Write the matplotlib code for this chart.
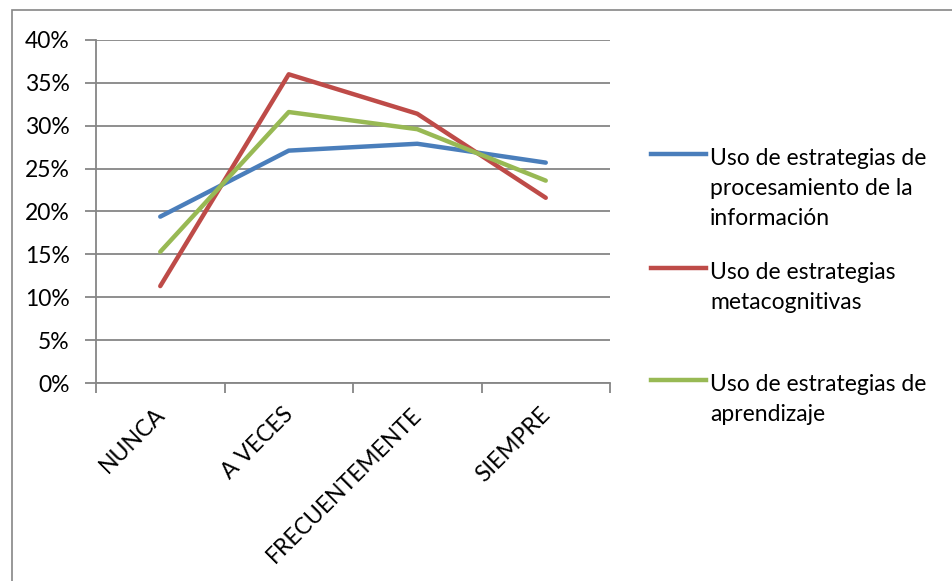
import matplotlib
matplotlib.use("Agg")
import matplotlib.pyplot as plt
from matplotlib.lines import Line2D
from matplotlib.patches import Rectangle
from matplotlib.ticker import PercentFormatter
from matplotlib.transforms import ScaledTranslation

categories = ["NUNCA", "A VECES", "FRECUENTEMENTE", "SIEMPRE"]
procesamiento = [19.4, 27.1, 27.9, 25.7]
metacognitivas = [11.3, 36.0, 31.4, 21.6]
aprendizaje = [15.3, 31.6, 29.6, 23.6]
series_labels = [["Uso de estrategias de", "procesamiento de la", "información"],
                 ["Uso de estrategias", "metacognitivas"],
                 ["Uso de estrategias de", "aprendizaje"]]
colors = ["#4A7EBB", "#BE4B48", "#98B954"]
yticks = [0, 5, 10, 15, 20, 25, 30, 35, 40]

plt.rcParams['font.family'] = ['Lato', 'DejaVu Sans']
FS = 16.5
W, H = 953, 581
fig = plt.figure(figsize=(W/100, H/100), dpi=100)
ax = fig.add_axes([96/W, 1-383/H, (610-96)/W, (383-40)/H])

# outer chart border
fig.add_artist(Rectangle((12/W, -0.01), 1.0, (H-10)/H + 0.01, transform=fig.transFigure,
                         fill=False, edgecolor="#868686", linewidth=1.2))

x = list(range(len(categories)))
for vals, c in zip([procesamiento, metacognitivas, aprendizaje], colors):
    ax.plot(x, vals, color=c, linewidth=3.2, solid_capstyle='round')

ax.set_xlim(-0.5, len(categories)-0.5)
ax.set_ylim(0, 40)
ax.set_yticks(yticks)
ax.yaxis.set_major_formatter(PercentFormatter(decimals=0))
ax.grid(axis='y', color="#868686", linewidth=1.3)
ax.set_axisbelow(True)
for s in ['top', 'right']:
    ax.spines[s].set_visible(False)
for s in ['left', 'bottom']:
    ax.spines[s].set_color("#868686")
    ax.spines[s].set_linewidth(1.3)

ax.set_xticks([i - 0.5 for i in range(len(categories)+1)], minor=False)
ax.set_xticklabels([])
ax.set_xticks(x, minor=True)
ax.set_xticklabels(categories, minor=True, rotation=45, ha='right', va='top',
                   rotation_mode='anchor', fontsize=FS)
ax.tick_params(axis='x', which='minor', length=0, pad=15)
ax.tick_params(axis='x', which='major', length=7, color="#868686", width=1.3)
ax.tick_params(axis='y', length=8, color="#868686", width=1.3, labelsize=FS, pad=11)
off = ScaledTranslation(-6/100, 0, fig.dpi_scale_trans)
for lab in ax.get_xticklabels(minor=True):
    lab.set_transform(lab.get_transform() + off)

# legend drawn manually (Excel style: handle aligned with first text line)
leg_y = [154, 268, 380]
for lines, c, yy in zip(series_labels, colors, leg_y):
    fig.add_artist(Line2D([651/W, 706/W], [1-yy/H, 1-yy/H], transform=fig.transFigure,
                          color=c, linewidth=3.2))
    for k, txt in enumerate(lines):
        fig.text(710/W, 1-(yy + 11 + 30*k)/H, txt, fontsize=FS, ha='left', va='baseline')

fig.savefig("out.png", dpi=100)
